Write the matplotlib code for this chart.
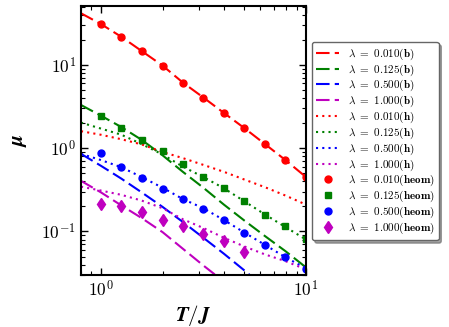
import math

import matplotlib
matplotlib.use("Agg")
import matplotlib.pyplot as plt
from matplotlib.ticker import FuncFormatter, NullFormatter

plt.rcParams["mathtext.fontset"] = "cm"
plt.rcParams["font.family"] = "serif"

# temperature grid of the numerical points (T/J)
T_pts = [1.0, 1.26, 1.58, 2.0, 2.51, 3.16, 3.98, 5.01, 6.31, 7.94, 10.0]
T_line = [0.8, 1.0, 1.26, 1.58, 2.0, 2.51, 3.16, 3.98, 5.01, 6.31, 7.94, 10.0]

lambdas = ["0.010", "0.125", "0.500", "1.000"]
colors = ["r", "g", "b", "m"]

# (b) curves - dashed
mu_b_001 = [41.7, 31.0, 21.7, 14.7, 9.8, 6.14, 4.06, 2.65, 1.74, 1.12, 0.72, 0.45]
mu_b_0125 = [3.3, 2.46, 1.79, 1.26, 0.82, 0.52, 0.335, 0.21, 0.135, 0.088, 0.058, 0.037]
mu_b_05 = [0.855, 0.615, 0.43, 0.295, 0.197, 0.13, 0.084, 0.054, 0.034, 0.021, 0.014, 0.009]
mu_b_1 = [0.405, 0.295, 0.205, 0.145, 0.098, 0.062, 0.039, 0.025, 0.016, 0.010, 0.0065, 0.004]

# (h) curves - dotted
mu_h_001 = [1.6, 1.45, 1.28, 1.11, 0.9, 0.76, 0.63, 0.52, 0.42, 0.34, 0.27, 0.21]
mu_h_0125 = [2.03, 1.72, 1.45, 1.12, 0.84, 0.6, 0.45, 0.33, 0.23, 0.16, 0.113, 0.08]
mu_h_05 = [0.855, 0.72, 0.59, 0.45, 0.335, 0.245, 0.19, 0.137, 0.097, 0.069, 0.049, 0.036]
mu_h_1 = [0.345, 0.31, 0.275, 0.235, 0.19, 0.14, 0.11, 0.084, 0.066, 0.053, 0.044, 0.035]

# heom points
mu_heom_001 = [31.0, 21.7, 14.7, 9.8, 6.14, 4.06, 2.65, 1.74, 1.12, 0.72, 0.45]
mu_heom_0125 = [2.44, 1.77, 1.25, 0.92, 0.64, 0.447, 0.331, 0.229, 0.158, 0.116, 0.0815]
mu_heom_05 = [0.887, 0.59, 0.436, 0.328, 0.242, 0.188, 0.136, 0.0955, 0.068, 0.049, 0.035]
mu_heom_1 = [0.215, 0.203, 0.169, 0.137, 0.116, 0.094, 0.076, 0.0574]

mu_b = [mu_b_001, mu_b_0125, mu_b_05, mu_b_1]
mu_h = [mu_h_001, mu_h_0125, mu_h_05, mu_h_1]
mu_heom = [mu_heom_001, mu_heom_0125, mu_heom_05, mu_heom_1]
markers = ["o", "s", "o", "d"]
msizes = [5, 5, 5, 6.3]

fig = plt.figure(figsize=(4.49, 3.27), dpi=100)
ax = fig.add_axes([81 / 449, 1 - 275 / 327, 225 / 449, 269 / 327])

lam = r"\boldsymbol{\lambda}"
for lv, c, y in zip(lambdas, colors, mu_b):
    ax.plot(T_line, y, color=c, ls=(0, (6.5, 2.5)), lw=1.5,
            label=r"$%s\ =\ \mathbf{%s(b)}$" % (lam, lv))
for lv, c, y in zip(lambdas, colors, mu_h):
    ax.plot(T_line, y, color=c, ls=(0, (1, 2)), lw=1.5,
            label=r"$%s\ =\ \mathbf{%s(h)}$" % (lam, lv))
for lv, c, y, mk, ms in zip(lambdas, colors, mu_heom, markers, msizes):
    ax.plot(T_pts[:len(y)], y, color=c, ls="none", marker=mk, ms=ms,
            label=r"$%s\ =\ \mathbf{%s(heom)}$" % (lam, lv))

ax.set_xscale("log")
ax.set_yscale("log")
ax.set_xlim(0.8, 10)
ax.set_ylim(0.03, 51)

fmt = FuncFormatter(lambda v, p: r"$\mathbf{10^{%d}}$" % round(math.log10(v)))
ax.xaxis.set_major_formatter(fmt)
ax.yaxis.set_major_formatter(fmt)
ax.xaxis.set_minor_formatter(NullFormatter())
ax.yaxis.set_minor_formatter(NullFormatter())
ax.tick_params(which="both", direction="in", top=True, right=True, labelsize=12.5)
ax.tick_params(which="major", length=5, width=1)
ax.tick_params(which="minor", length=3, width=0.8)
for s in ax.spines.values():
    s.set_linewidth(1.5)

ax.set_xlabel(r"$\boldsymbol{T/J}$", fontsize=15, labelpad=2)
ax.set_ylabel(r"$\boldsymbol{\mu}$", fontsize=15, labelpad=9)

leg = ax.legend(loc="upper left", bbox_to_anchor=(312 / 449, 1 - 42 / 327),
                bbox_transform=fig.transFigure, borderaxespad=0, fontsize=8,
                fancybox=True, shadow=True, handlelength=2.0, labelspacing=0.05,
                numpoints=1, framealpha=1)
leg.get_frame().set_edgecolor("0.4")

fig.savefig("out.png", dpi=100)
